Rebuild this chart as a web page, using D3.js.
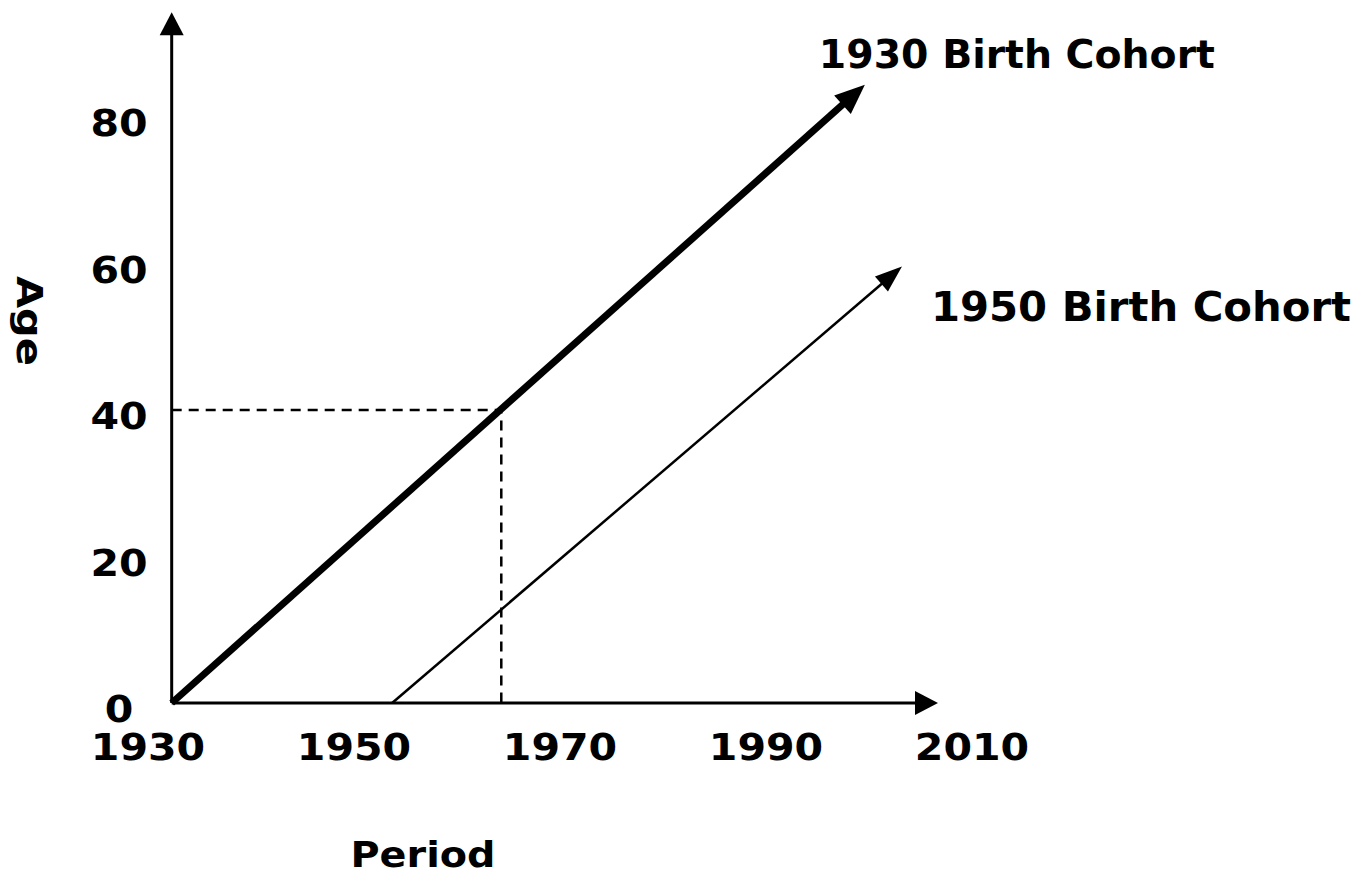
<!DOCTYPE html>
<html>
<head>
<meta charset="utf-8">
<script src="https://cdn.jsdelivr.net/npm/d3@7"></script>
<style>
  body { margin: 0; background: #fff; }
  text { font-family: "DejaVu Sans", Verdana, sans-serif; font-weight: bold; fill: #000; }
</style>
</head>
<body>
<div id="chart"></div>
<script>
// values
const periodTicks = [1930, 1950, 1970, 1990, 2010];
const ageTicks = [0, 20, 40, 60, 80];
const cohortNames = ["1930 Birth Cohort", "1950 Birth Cohort"];
const cohortStart = [[1932.3, 0], [1953.7, 0]];
const cohortEnd = [[1999.6, 84.4], [2003.2, 59.6]];
const axisOrigin = [1932.3, 0];
const periodMax = 2006.7;
const ageMax = 94.3;
const markPeriod = 1964.3;
const markAge = 40;

const width = 1359, height = 876;

const svg = d3.select('#chart')
    .append('svg')
    .attr('width', width)
    .attr('height', height);

const x = d3.scaleLinear().domain([1930, 2010]).range([148, 972]);
const y = d3.scaleLinear().domain([0, 80]).range([703, 117]);

// stretch text horizontally a bit, the original glyphs are wider
function stretch(sel, k) {
    sel.each(function() {
        const len = this.getComputedTextLength();
        d3.select(this).attr('textLength', len * k).attr('lengthAdjust', 'spacingAndGlyphs');
    });
}

// line with a filled triangular head at (x1,y1)
function arrow(g, x0, y0, x1, y1, w, len, hw) {
    const dx = x1 - x0, dy = y1 - y0;
    const L = Math.hypot(dx, dy);
    const ux = dx / L, uy = dy / L;
    const bx = x1 - ux * len, by = y1 - uy * len;
    g.append('line')
        .attr('x1', x0).attr('y1', y0)
        .attr('x2', bx + ux * 2).attr('y2', by + uy * 2)
        .attr('stroke', '#000')
        .attr('stroke-width', w);
    g.append('path')
        .attr('d', `M${x1},${y1}L${bx - uy * hw / 2},${by + ux * hw / 2}L${bx + uy * hw / 2},${by - ux * hw / 2}Z`)
        .attr('fill', '#000');
}

const g = svg.append('g');

// dashed guide at age 40
g.append('path')
    .attr('d', `M${x(axisOrigin[0])},${y(markAge)}L${x(markPeriod)},${y(markAge)}L${x(markPeriod)},${y(0)}`)
    .attr('fill', 'none')
    .attr('stroke', '#000')
    .attr('stroke-width', 2.5)
    .attr('stroke-dasharray', '10,7');

// axes
arrow(g, x(axisOrigin[0]), y(axisOrigin[1]), x(periodMax), y(axisOrigin[1]), 3, 23, 24);
arrow(g, x(axisOrigin[0]), y(axisOrigin[1]), x(axisOrigin[0]), y(ageMax), 3, 23, 24);

// cohort lines
const lineW = [7, 2.5], headLen = [30, 27], headW = [25, 20];
cohortNames.forEach((name, i) => {
    arrow(g, x(cohortStart[i][0]), y(cohortStart[i][1]),
        x(cohortEnd[i][0]), y(cohortEnd[i][1]), lineW[i], headLen[i], headW[i]);
});

// cohort labels
const labelOff = [[-46, -17], [29, 55]], labelSize = [39, 41], labelLen = [396, 420];
cohortNames.forEach((name, i) => {
    g.append('text')
        .attr('x', x(cohortEnd[i][0]) + labelOff[i][0])
        .attr('y', y(cohortEnd[i][1]) + labelOff[i][1])
        .style('font-size', labelSize[i] + 'px')
        .attr('textLength', labelLen[i])
        .attr('lengthAdjust', 'spacingAndGlyphs')
        .text(name);
});

// tick labels
g.append('g').selectAll('text')
    .data(periodTicks)
    .enter().append('text')
    .attr('x', d => x(d))
    .attr('y', 760)
    .attr('text-anchor', 'middle')
    .style('font-size', '37px')
    .text(d => d)
    .call(stretch, 1.11);

g.append('g').selectAll('text')
    .data(ageTicks)
    .enter().append('text')
    .attr('x', 119)
    .attr('y', d => y(d) + 19)
    .attr('text-anchor', 'middle')
    .style('font-size', '37px')
    .text(d => d)
    .call(stretch, 1.11);

// axis titles
g.append('text')
    .attr('x', 423)
    .attr('y', 867)
    .attr('text-anchor', 'middle')
    .style('font-size', '35px')
    .attr('textLength', 145)
    .attr('lengthAdjust', 'spacingAndGlyphs')
    .text('Period');

g.append('text')
    .attr('transform', 'translate(17,321) rotate(90)')
    .attr('text-anchor', 'middle')
    .style('font-size', '35px')
    .attr('textLength', 90)
    .attr('lengthAdjust', 'spacingAndGlyphs')
    .text('Age');
</script>
</body>
</html>
